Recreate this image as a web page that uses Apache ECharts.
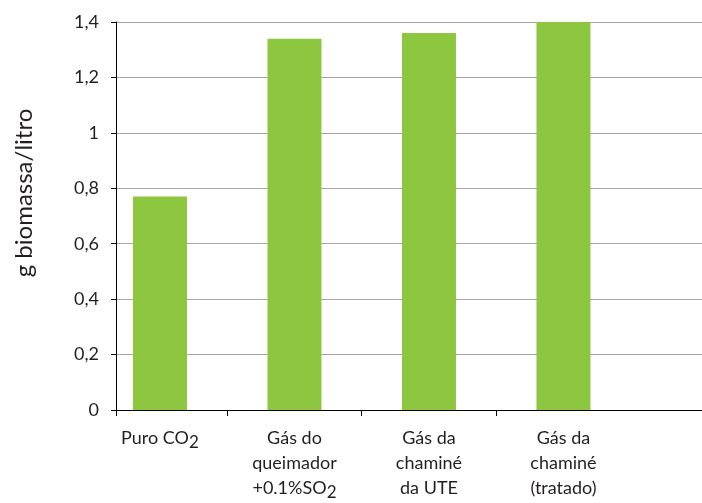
<!DOCTYPE html>
<html>
<head>
<meta charset="utf-8">
<script src="https://cdn.jsdelivr.net/npm/echarts@6/dist/echarts.min.js"></script>
<style>
  html, body { margin: 0; padding: 0; background: #ffffff; }
  #chart { width: 702px; height: 503px; }
</style>
</head>
<body>
<div id="chart"></div>
<script>
// Biomass yield per gas source
const categories = [
  'Puro CO{s|2}',
  'Gás do\nqueimador\n+0.1%SO{s|2}',
  'Gás da\nchaminé\nda UTE',
  'Gás da\nchaminé\n(tratado)'
];
const biomass = [0.77, 1.34, 1.36, 1.40];
const yTicks = [0, 0.2, 0.4, 0.6, 0.8, 1, 1.2, 1.4];
const yAxisTitle = 'g biomassa/litro';

const textColor = '#231f20';
const fontFamily = 'Lato, "Open Sans", sans-serif';

const positions = categories.map((_, i) => i);
const xMin = -0.327;
const xMax = 4.03;

const chart = echarts.init(document.getElementById('chart'), null, { renderer: 'canvas' });
chart.setOption({
  animation: false,
  grid: { left: 116, right: 0, top: 22, bottom: 93 },
  xAxis: {
    type: 'value',
    min: xMin,
    max: xMax,
    splitLine: { show: false },
    axisLine: { show: true, onZero: false, lineStyle: { color: '#000000', width: 1 } },
    axisTick: {
      show: true,
      length: 6,
      customValues: [xMin, 0.5, 1.5, 2.5],
      lineStyle: { color: '#000000' }
    },
    axisLabel: {
      customValues: positions,
      margin: 16,
      color: textColor,
      fontFamily: fontFamily,
      fontSize: 18,
      lineHeight: 25,
      align: 'center',
      formatter: (v) => categories[Math.round(v)],
      rich: {
        s: { fontSize: 17, fontFamily: fontFamily, color: textColor, padding: [9, 0, 0, 0], lineHeight: 25 }
      }
    }
  },
  yAxis: {
    type: 'value',
    min: 0,
    max: 1.4,
    interval: 0.2,
    name: yAxisTitle,
    nameLocation: 'middle',
    nameRotate: 90,
    nameGap: 80,
    nameTextStyle: { color: textColor, fontFamily: fontFamily, fontSize: 24, padding: [0, 0, 0, 46] },
    axisLine: { show: true, onZero: false, lineStyle: { color: '#000000', width: 1 } },
    axisTick: { show: true, length: 5, lineStyle: { color: '#000000' } },
    axisLabel: {
      margin: 17,
      color: textColor,
      fontFamily: fontFamily,
      fontSize: 18,
      formatter: (v) => {
        const t = yTicks.find(k => Math.abs(k - v) < 1e-9);
        return String(Number((t !== undefined ? t : v).toFixed(1))).replace('.', ',');
      }
    },
    splitLine: { show: true, lineStyle: { color: '#a6a6a6', width: 1 } }
  },
  series: [{
    type: 'bar',
    barWidth: 54,
    itemStyle: { color: '#8dc63f' },
    data: positions.map((p, i) => [p, biomass[i]])
  }]
});
</script>
</body>
</html>
